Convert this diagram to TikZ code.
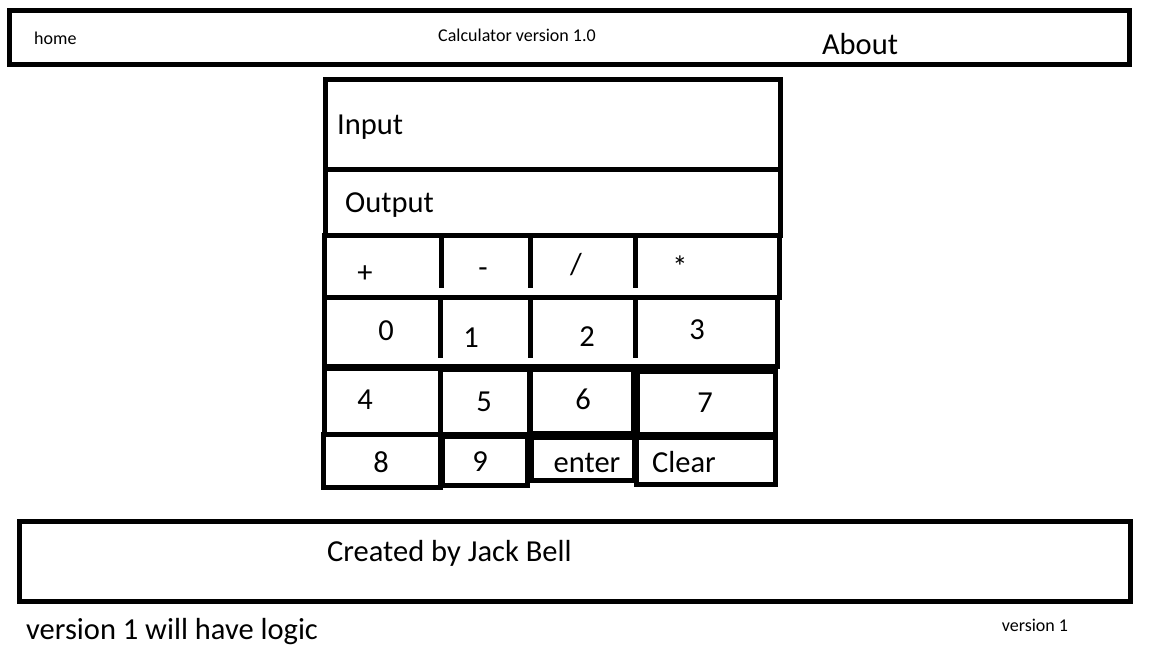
\documentclass[tikz,border=0pt]{standalone}
\usepackage{fontspec}
\setmainfont{Carlito}

\begin{document}
\begin{tikzpicture}[x=1pt,y=-1pt,
  box/.style={black,line width=5pt},
  big/.style={font=\fontsize{30.5}{35}\selectfont},
  small/.style={font=\fontsize{18}{21}\selectfont}]
\tikzstyle{every node}+=[inner sep=0pt]
\useasboundingbox (0,0) rectangle (1152,648);
% header bar
\draw [box] (9.5,10) rectangle (1129,64.5);
\draw (34,44) node (home) [small,anchor=base west] {home};
\draw (517,41) node (title) [small,anchor=base] {Calculator version 1.0};
\draw (860,54) node (about) [big,anchor=base] {About};
% input and output fields
\draw [box] (325.5,79.5) rectangle (780.5,169.5);
\draw (337,134) node (input) [big,anchor=base west] {Input};
\draw [box] (325.5,169.5) rectangle (780.5,235.5);
\draw (345,212) node (output) [big,anchor=base west] {Output};
% operator row
\draw [box] (324.5,235.5) rectangle (779.5,297.5);
\draw [box] (441.5,235.5) -- (441.5,288);
\draw [box] (530.5,235.5) -- (530.5,288);
\draw [box] (635.5,235.5) -- (635.5,288);
\draw (365,282) node (plus) [big,anchor=base] {+};
\draw (483,277) node (minus) [big,anchor=base] {-};
\draw (576,274) node (divide) [big,anchor=base] {/};
\draw (680,277) node (times) [big,anchor=base] {*};
% digits 0 to 3
\draw [box] (324.5,297.5) rectangle (777.5,366.5);
\draw [box] (440.5,297.5) -- (440.5,358);
\draw [box] (530,297.5) -- (530,358);
\draw [box] (635,297.5) -- (635,358);
\draw (386,340) node (d0) [big,anchor=base] {0};
\draw (471,347) node (d1) [big,anchor=base] {1};
\draw (587,346) node (d2) [big,anchor=base] {2};
\draw (697,339) node (d3) [big,anchor=base] {3};
% digits 4 to 7
\draw [box] (324.5,368.5) rectangle (440,434.5);
\draw [box] (440.5,369) rectangle (529.5,434);
\draw [box] (530.5,369) rectangle (633,433);
\draw [box] (637.5,371.5) rectangle (775.5,434);
\draw (365,409) node (d4) [big,anchor=base] {4};
\draw (484,411) node (d5) [big,anchor=base] {5};
\draw (583,409) node (d6) [big,anchor=base] {6};
\draw (705,412) node (d7) [big,anchor=base] {7};
% last row
\draw [box] (323.5,434) rectangle (440,487.5);
\draw [box] (442.5,436.5) rectangle (527.5,485);
\draw [box] (531.5,437.5) rectangle (634,480.5);
\draw [box] (636.5,437) rectangle (775.5,484);
\draw (381,472) node (d8) [big,anchor=base] {8};
\draw (480,471) node (d9) [big,anchor=base] {9};
\draw (587,472) node (enter) [big,anchor=base] {enter};
\draw (652,472) node (clear) [big,anchor=base west] {Clear};
% footer
\draw [box] (19.5,521.5) rectangle (1130.5,601.5);
\draw (327,561) node (credit) [big,anchor=base west] {Created by Jack Bell};
\draw (26,639) node (note) [big,anchor=base west] {version 1 will have logic};
\draw (1035,631) node (ver) [small,anchor=base] {version 1};
\end{tikzpicture}
\end{document}
